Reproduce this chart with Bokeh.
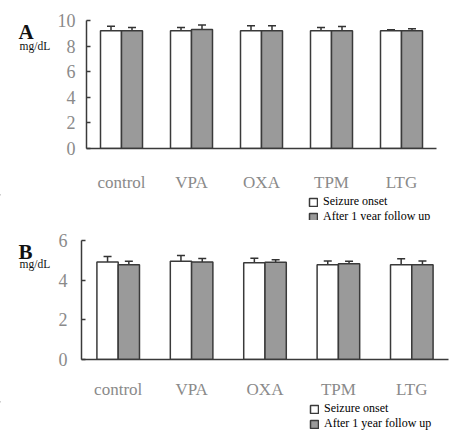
from bokeh.plotting import figure
from bokeh.models import (ColumnDataSource, Whisker, TeeHead, FixedTicker, Range1d,
                          Label, Legend, LegendItem)
from bokeh.layouts import column, row
from bokeh.embed import file_html
from bokeh.resources import INLINE

categories = ["control", "VPA", "OXA", "TPM", "LTG"]
series_names = ["Seizure onset", "After 1 year follow up"]

a_onset = [9.2, 9.2, 9.2, 9.2, 9.2]
a_onset_err = [0.35, 0.26, 0.39, 0.26, 0.07]
a_follow = [9.2, 9.3, 9.2, 9.2, 9.2]
a_follow_err = [0.25, 0.34, 0.39, 0.34, 0.15]
a_ticks = [0, 2, 4, 6, 8, 10]

b_onset = [4.91, 4.96, 4.88, 4.78, 4.78]
b_onset_err = [0.28, 0.28, 0.22, 0.19, 0.30]
b_follow = [4.78, 4.91, 4.90, 4.83, 4.78]
b_follow_err = [0.17, 0.18, 0.13, 0.13, 0.19]
b_ticks = [0, 2, 4, 6]

EDGE = "#3a3a3a"
GREY_FILL = "#9a9a9a"
TICK_COLOR = "#8a8a8a"
SERIF = "Liberation Serif"
W = 465
LABEL_W = 54


def bare_figure(width, height):
    f = figure(width=width, height=height, x_range=Range1d(0, width),
               y_range=Range1d(height, 0), x_axis_type=None, y_axis_type=None,
               title=None, output_backend="svg", toolbar_location=None,
               min_border_left=0, min_border_right=0, min_border_top=0,
               min_border_bottom=0)
    f.outline_line_color = None
    f.grid.visible = False
    return f


def make_side(letter, height, letter_y, unit_y):
    s = bare_figure(LABEL_W, height)
    s.add_layout(Label(x=18, y=letter_y, text=letter, text_font=SERIF,
                       text_font_size="21px", text_font_style="bold",
                       text_color="#111111", text_baseline="middle"))
    s.add_layout(Label(x=19, y=unit_y, text="mg/dL", text_font=SERIF,
                       text_font_size="11.5px", text_color="#111111",
                       text_baseline="middle"))
    return s


def make_legend(height, loc):
    lf = bare_figure(W, height)
    # swatch carriers for the legend (placed outside the visible range)
    r1 = lf.vbar(x=[-100], top=[0], width=1, fill_color="white", line_color=EDGE,
                 line_width=1.5)
    r2 = lf.vbar(x=[-100], top=[0], width=1, fill_color=GREY_FILL, line_color=EDGE,
                 line_width=1.5)
    legend = Legend(items=[LegendItem(label=series_names[0], renderers=[r1]),
                           LegendItem(label=series_names[1], renderers=[r2])],
                    location=loc, orientation="vertical",
                    padding=0, margin=0, spacing=0,
                    glyph_width=10, glyph_height=10, label_height=14,
                    label_standoff=5, label_text_font=SERIF,
                    label_text_font_size="12px", label_text_color="black",
                    background_fill_alpha=0, border_line_alpha=0)
    lf.add_layout(legend)
    return lf


def make_panel(onset, onset_err, follow, follow_err, ticks, ymax,
               height, borders, x_standoff, y_standoff, bar_w):
    bl, br, bt, bb = borders
    p = figure(width=W - LABEL_W, height=height, x_range=Range1d(0, len(categories)),
               y_range=Range1d(0, ymax), output_backend="svg", toolbar_location=None,
               title=None, min_border_left=bl, min_border_right=br, min_border_top=bt,
               min_border_bottom=bb)
    p.outline_line_color = None
    p.xgrid.visible = False
    p.ygrid.visible = False

    centers = [i + 0.5 for i in range(len(categories))]
    xs_on = [c - bar_w / 2 for c in centers]
    xs_fo = [c + bar_w / 2 for c in centers]
    src_on = ColumnDataSource(dict(x=xs_on, top=onset,
                                   lo=[v - e for v, e in zip(onset, onset_err)],
                                   hi=[v + e for v, e in zip(onset, onset_err)]))
    src_fo = ColumnDataSource(dict(x=xs_fo, top=follow,
                                   lo=[v - e for v, e in zip(follow, follow_err)],
                                   hi=[v + e for v, e in zip(follow, follow_err)]))
    p.vbar(x="x", top="top", bottom=0, width=bar_w, source=src_on,
           fill_color="white", line_color=EDGE, line_width=1.5)
    p.vbar(x="x", top="top", bottom=0, width=bar_w, source=src_fo,
           fill_color=GREY_FILL, line_color=EDGE, line_width=1.5)

    for src in (src_on, src_fo):
        w = Whisker(base="x", lower="lo", upper="hi", source=src,
                    line_color="#333333", line_width=1.5,
                    upper_head=TeeHead(size=8, line_color="#333333", line_width=1.5),
                    lower_head=TeeHead(size=8, line_color="#333333", line_width=1.5))
        p.add_layout(w)

    xa = p.xaxis[0]
    xa.ticker = FixedTicker(ticks=centers)
    xa.major_label_overrides = {c: n for c, n in zip(centers, categories)}
    xa.major_tick_line_color = None
    xa.minor_tick_line_color = None
    xa.axis_line_color = EDGE
    xa.axis_line_width = 1.5
    xa.major_label_standoff = x_standoff
    xa.major_label_text_font = SERIF
    xa.major_label_text_font_size = "17px"
    xa.major_label_text_color = TICK_COLOR

    ya = p.yaxis[0]
    ya.ticker = FixedTicker(ticks=ticks)
    ya.major_tick_in = 4
    ya.major_tick_out = 0
    ya.major_tick_line_color = EDGE
    ya.major_tick_line_width = 1.5
    ya.minor_tick_line_color = None
    ya.axis_line_color = EDGE
    ya.axis_line_width = 1.5
    ya.major_label_standoff = y_standoff
    ya.major_label_text_font = SERIF
    ya.major_label_text_font_size = "18px"
    ya.major_label_text_color = TICK_COLOR
    return p


pA = make_panel(a_onset, a_onset_err, a_follow, a_follow_err, a_ticks, 10,
                height=194, borders=(84 - LABEL_W, 29, 20, 46), x_standoff=18,
                y_standoff=11, bar_w=0.3)
sA = make_side("A", 194, 18, 38)
lA = make_legend(26, (308, -4))

pB = make_panel(b_onset, b_onset_err, b_follow, b_follow_err, b_ticks, 6,
                height=181, borders=(81 - LABEL_W, 17, 20, 42), x_standoff=14,
                y_standoff=14, bar_w=0.29)
sB = make_side("B", 181, 17, 36)
lB = make_legend(31, (309, 1))

layout = column(row(sA, pA, spacing=0), lA, row(sB, pB, spacing=0), lB, spacing=0)
open("out.html", "w").write(file_html(layout, INLINE))
